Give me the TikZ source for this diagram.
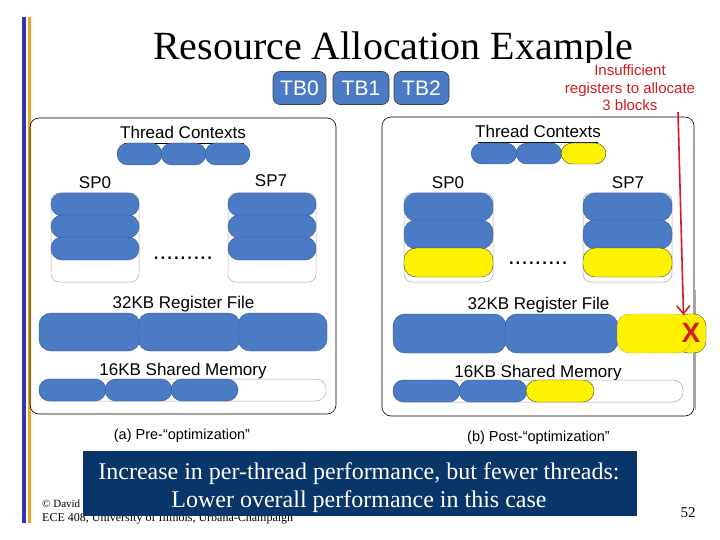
\documentclass[tikz,border=0pt]{standalone}
\usepackage{fontspec}
\setmainfont{Liberation Serif}
\newfontfamily\arial{Liberation Sans}
\usetikzlibrary{arrows.meta}
\definecolor{pblue}{RGB}{74,123,196}
\definecolor{pedge}{RGB}{52,86,145}
\definecolor{navy}{RGB}{8,54,104}
\definecolor{ired}{RGB}{208,28,34}
\definecolor{barblue}{RGB}{52,52,178}
\definecolor{barorange}{RGB}{240,162,40}
\begin{document}
\begin{tikzpicture}[x=1pt,y=-1pt,
  lbl/.style={font=\arial\fontsize{17}{19}\selectfont, inner sep=0pt, anchor=base},
  captxt/.style={font=\arial\fontsize{14.5}{17}\selectfont, inner sep=0pt, anchor=base},
  pillb/.style={fill=pblue, draw=pedge, line width=0.4pt},
  pilly/.style={fill=yellow, draw=black!75, line width=0.4pt},
  cont/.style={fill=white, draw=gray!65, line width=0.5pt},
  panelbox/.style={draw=black, line width=0.6pt, rounded corners=9},
  tbbox/.style={fill=pblue, draw=black!75, line width=0.6pt, rounded corners=7, text=white,
    font=\arial\fontsize{21}{23}\selectfont, minimum height=33pt, inner sep=0pt},
  dotrow/.style={font=\arial\fontsize{24}{26}\selectfont, inner sep=0pt, anchor=base}]
\useasboundingbox (0,0) rectangle (720,540);
\fill[white] (0,0) rectangle (720,540);
% side bars
\fill[barblue] (22,17) rectangle (25.5,523);
\fill[barorange] (27.5,17) rectangle (31,523);
% title (its lower edge is hidden by the diagram, as in the slide)
\begin{scope}
\clip (100,0) rectangle (700,62.5);
\node[font=\fontsize{40}{44}\selectfont, inner sep=0pt, anchor=base] (title) at (393,60) {Resource Allocation Example};
\end{scope}
% thread blocks
\node[tbbox, minimum width=53pt] (tb0) at (299.5,88) {TB0};
\node[tbbox, minimum width=56pt] (tb1) at (361,88) {TB1};
\node[tbbox, minimum width=55pt] (tb2) at (421.5,88) {TB2};
% note
\node[font=\arial\fontsize{15}{17.5}\selectfont, text=ired, align=center, inner sep=0pt] (note) at (630,88)
  {Insufficient\\registers to allocate\\3 blocks};

% ===== panel (a) =====
\draw[panelbox] (30,118) rectangle (336,414);
\node[lbl] (tca) at (183,139) {Thread Contexts};
\draw[black, line width=0.5pt] (124,143) -- (244,143);
\draw[pillb, rounded corners=11] (117,143) rectangle (162,165);
\draw[pillb, rounded corners=11] (161,143) rectangle (206,165);
\draw[pillb, rounded corners=11] (205,143) rectangle (250,165);
\node[lbl] (sp0a) at (95,189) {SP0};
\node[lbl] (sp7a) at (271,187) {SP7};
% SP0 stack
\draw[cont, rounded corners=8] (51,193) rectangle (139,282);
\draw[pillb, rounded corners=11] (51,193) rectangle (139,216);
\draw[pillb, rounded corners=11] (51,215) rectangle (139,238);
\draw[pillb, rounded corners=11] (51,237) rectangle (139,260);
% SP7 stack
\draw[cont, rounded corners=8] (228,193) rectangle (316,282);
\draw[pillb, rounded corners=11] (228,193) rectangle (316,216);
\draw[pillb, rounded corners=11] (228,215) rectangle (316,238);
\draw[pillb, rounded corners=11] (228,237) rectangle (316,260);
\node[dotrow] (dotsa) at (183,259) {.........};
\node[lbl] (rfa) at (183.5,308) {32KB Register File};
\draw[pillb, rounded corners=12] (39,313) rectangle (140,351);
\draw[pillb, rounded corners=12] (138,313) rectangle (240,351);
\draw[pillb, rounded corners=12] (238,313) rectangle (327,351);
\node[lbl] (sma) at (183,375) {16KB Shared Memory};
\draw[cont, rounded corners=10] (39,379) rectangle (326,401);
\draw[pillb, rounded corners=11] (39,379) rectangle (106,401);
\draw[pillb, rounded corners=11] (105,379) rectangle (172,401);
\draw[pillb, rounded corners=11] (171,379) rectangle (238,401);
\node[captxt] (capa) at (182,439) {(a) Pre-“optimization”};

% ===== panel (b) =====
\draw[panelbox] (382,117) rectangle (694,416);
\draw[gray!70, line width=0.5pt] (695,290) -- (695,410);
\node[lbl] (tcb) at (538,138) {Thread Contexts};
\draw[black, line width=0.5pt] (478,142) -- (598,142);
\draw[pillb, rounded corners=11] (471,143) rectangle (517,164);
\draw[pillb, rounded corners=11] (516,143) rectangle (562,164);
\draw[pilly, rounded corners=11] (561,143) rectangle (606,164);
\node[lbl] (sp0b) at (448,189) {SP0};
\node[lbl] (sp7b) at (628,189) {SP7};
% SP0 stack
\draw[cont, rounded corners=8] (404,193) rectangle (493,282);
\draw[pillb, rounded corners=12] (404,193) rectangle (493,221);
\draw[pillb, rounded corners=12] (404,220) rectangle (493,249);
\draw[pilly, rounded corners=12] (404,248) rectangle (493,277);
% SP7 stack
\draw[cont, rounded corners=8] (583,193) rectangle (672,282);
\draw[pillb, rounded corners=12] (583,193) rectangle (672,221);
\draw[pillb, rounded corners=12] (583,220) rectangle (672,249);
\draw[pilly, rounded corners=12] (583,248) rectangle (672,277);
\node[dotrow] (dotsb) at (538,264) {.........};
\node[lbl] (rfb) at (538.5,309) {32KB Register File};
\draw[pillb, rounded corners=12] (393,314) rectangle (506,353);
\draw[pillb, rounded corners=12] (505,314) rectangle (618,353);
\draw[pilly, rounded corners=12] (676,314) rectangle (706,353);
\draw[pilly, rounded corners=12, densely dotted] (617,314) rectangle (690,353);
\node[lbl] (smb) at (538,377) {16KB Shared Memory};
\draw[cont, rounded corners=10] (393,380) rectangle (683,402);
\draw[pillb, rounded corners=11] (393,380) rectangle (460,402);
\draw[pillb, rounded corners=11] (459,380) rectangle (527,402);
\draw[pilly, rounded corners=11] (526,380) rectangle (594,402);
\node[captxt] (capb) at (538.5,441) {(b) Post-“optimization”};

% red arrow and X
\coordinate (arrtop) at (678,112);
\node[font=\arial\bfseries\fontsize{28}{30}\selectfont, text=ired, inner sep=0pt] (xmark) at (691,333) {X};
\coordinate (arrend) at (683.5,315);
\draw[ired, line width=1.6pt, -{Straight Barb[length=8pt,width=13pt]}] (arrtop) -- (arrend);

% footer
\node[font=\fontsize{11}{13}\selectfont, inner sep=0pt, anchor=base west] (copy) at (42,507) {© David};
\node[font=\fontsize{12}{14}\selectfont, inner sep=0pt, anchor=base west] (ece) at (42,521) {ECE 408, University of Illinois, Urbana-Champaign};
\node[font=\fontsize{15}{17}\selectfont, inner sep=0pt, anchor=base] (pg) at (688,517) {52};
% banner
\node[fill=navy, text=white, minimum width=554pt, minimum height=65pt, inner sep=0pt] (banner) at (360,483.5) {};
\node[text=white, font=\fontsize{24}{28}\selectfont, align=center, inner sep=0pt] (btext) at (359,488)
  {Increase in per-thread performance, but fewer threads:\\Lower overall performance in this case};
\end{tikzpicture}
\end{document}
